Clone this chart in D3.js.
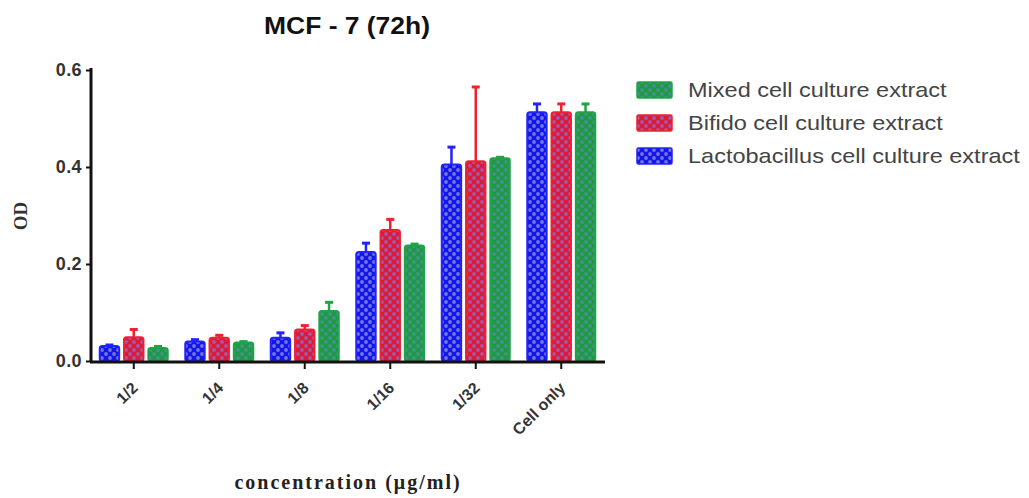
<!DOCTYPE html>
<html><head><meta charset="utf-8">
<script src="https://cdn.jsdelivr.net/npm/d3@7"></script>
<style>body{margin:0;background:#fff;}svg{display:block;}</style>
</head><body>
<svg id="chart" width="1029" height="498"></svg>
<script>
const categories = ["1/2", "1/4", "1/8", "1/16", "1/32", "Cell only"];
const seriesNames = ["Lactobacillus cell culture extract", "Bifido cell culture extract", "Mixed cell culture extract"];
const lactoValues = [0.031, 0.040, 0.048, 0.225, 0.405, 0.513];
const lactoErrors = [0.002, 0.004, 0.010, 0.018, 0.036, 0.017];
const bifidoValues = [0.049, 0.048, 0.065, 0.270, 0.412, 0.513];
const bifidoErrors = [0.016, 0.005, 0.008, 0.022, 0.153, 0.017];
const mixedValues = [0.027, 0.038, 0.103, 0.238, 0.418, 0.513];
const mixedErrors = [0.003, 0.002, 0.018, 0.003, 0.002, 0.017];
const yTicks = [0.0, 0.2, 0.4, 0.6];
const legendOrder = ["Mixed cell culture extract", "Bifido cell culture extract", "Lactobacillus cell culture extract"];

const colors = {
  "Lactobacillus cell culture extract": {fill: "#1414ee", stroke: "#2222ff", dot: "#7078d8"},
  "Bifido cell culture extract": {fill: "#dc1a3a", stroke: "#f02030", dot: "#a05aa8"},
  "Mixed cell culture extract": {fill: "#1c9a44", stroke: "#22a244", dot: "#46908c"}
};
const seriesData = [
  {name: seriesNames[0], values: lactoValues, errors: lactoErrors},
  {name: seriesNames[1], values: bifidoValues, errors: bifidoErrors},
  {name: seriesNames[2], values: mixedValues, errors: mixedErrors}
];

const svg = d3.select("#chart");
const defs = svg.append("defs");
seriesNames.forEach((n, i) => {
  const c = colors[n];
  const p = defs.append("pattern").attr("id", "pat" + i)
    .attr("patternUnits", "userSpaceOnUse").attr("width", 8).attr("height", 8);
  p.append("rect").attr("width", 8).attr("height", 8).attr("fill", c.fill);
  p.append("circle").attr("cx", 2).attr("cy", 2).attr("r", 1.9).attr("fill", c.dot);
  p.append("circle").attr("cx", 6).attr("cy", 6).attr("r", 1.9).attr("fill", c.dot);
});

const x0 = d3.scaleBand().domain(categories).range([91, 604]).paddingInner(0).paddingOuter(0);
const x1 = d3.scaleBand().domain(seriesNames).range([-34, 34]).paddingInner(0.2);
const y = d3.scaleLinear().domain([0, 0.6]).range([361, 70]);

// bars
seriesData.forEach((s, si) => {
  const c = colors[s.name];
  const g = svg.append("g");
  categories.forEach((cat, ci) => {
    const cx = x0(cat) + x0.bandwidth() / 2;
    const bx = cx + x1(s.name);
    const bw = x1.bandwidth();
    const top = y(s.values[ci]);
    const etop = y(s.values[ci] + s.errors[ci]);
    const mid = bx + bw / 2;
    g.append("line").attr("x1", mid).attr("x2", mid).attr("y1", top).attr("y2", etop)
      .attr("stroke", c.stroke).attr("stroke-width", 2.5);
    g.append("line").attr("x1", mid - 4).attr("x2", mid + 4).attr("y1", etop).attr("y2", etop)
      .attr("stroke", c.stroke).attr("stroke-width", 3);
    g.append("rect").attr("x", bx).attr("y", top).attr("width", bw).attr("height", y(0) - top)
      .attr("rx", 2.5).attr("fill", "url(#pat" + si + ")")
      .attr("stroke", c.stroke).attr("stroke-width", 2);
  });
});

// axes
const yAxis = d3.axisLeft(y).tickValues(yTicks).tickFormat(d3.format(".1f")).tickSize(5).tickPadding(4);
const gy = svg.append("g").attr("transform", "translate(91,0)").call(yAxis);
gy.select(".domain").attr("stroke", "#111").attr("stroke-width", 3).attr("d", "M0,68V362");
gy.selectAll(".tick line").attr("stroke", "#111").attr("stroke-width", 2);
gy.selectAll(".tick text").attr("font-family", "Liberation Sans, Arial, sans-serif")
  .attr("font-weight", "bold").attr("font-size", 18).attr("letter-spacing", 0.4).attr("fill", "#333");

const xAxis = d3.axisBottom(x0).tickSize(7).tickPadding(4);
const gx = svg.append("g").attr("transform", "translate(0,362)").call(xAxis);
gx.select(".domain").attr("stroke", "#111").attr("stroke-width", 3).attr("d", "M90,0H605");
gx.selectAll(".tick line").attr("stroke", "#111").attr("stroke-width", 2);
gx.selectAll(".tick text").attr("font-family", "Liberation Sans, Arial, sans-serif")
  .attr("font-weight", "bold").attr("font-size", 16).attr("fill", "#333")
  .attr("text-anchor", "end").attr("x", 0).attr("y", 0).attr("dy", 0)
  .attr("transform", "translate(5,27) rotate(-45)");

// title
svg.append("text").attr("transform", "translate(347,34) scale(1.15,1)").attr("text-anchor", "middle")
  .attr("font-family", "Liberation Sans, Arial, sans-serif").attr("font-weight", "bold")
  .attr("font-size", 23).attr("fill", "#111").text("MCF - 7 (72h)");

// axis labels
svg.append("text").attr("transform", "translate(27,216) rotate(-90)").attr("text-anchor", "middle")
  .attr("font-family", "Liberation Serif, Times New Roman, serif").attr("font-weight", "bold")
  .attr("font-size", 19).attr("fill", "#333").text("OD");
svg.append("text").attr("x", 348).attr("y", 489).attr("text-anchor", "middle")
  .attr("font-family", "Liberation Serif, Times New Roman, serif").attr("font-weight", "bold")
  .attr("font-size", 20).attr("letter-spacing", 2).attr("fill", "#222").text("concentration (\u03bcg/ml)");

// legend
const lg = svg.append("g");
legendOrder.forEach((n, i) => {
  const si = seriesNames.indexOf(n);
  const yy = 82 + i * 33;
  lg.append("rect").attr("x", 637).attr("y", yy).attr("width", 35).attr("height", 16).attr("rx", 1.5)
    .attr("fill", "url(#pat" + si + ")").attr("stroke", colors[n].stroke).attr("stroke-width", 1.5);
  lg.append("text").attr("transform", `translate(688,${yy + 15}) scale(1.12,1)`)
    .attr("font-family", "Liberation Sans, Arial, sans-serif").attr("font-size", 21)
    .attr("fill", "#444").text(n);
});
</script>
</body></html>
